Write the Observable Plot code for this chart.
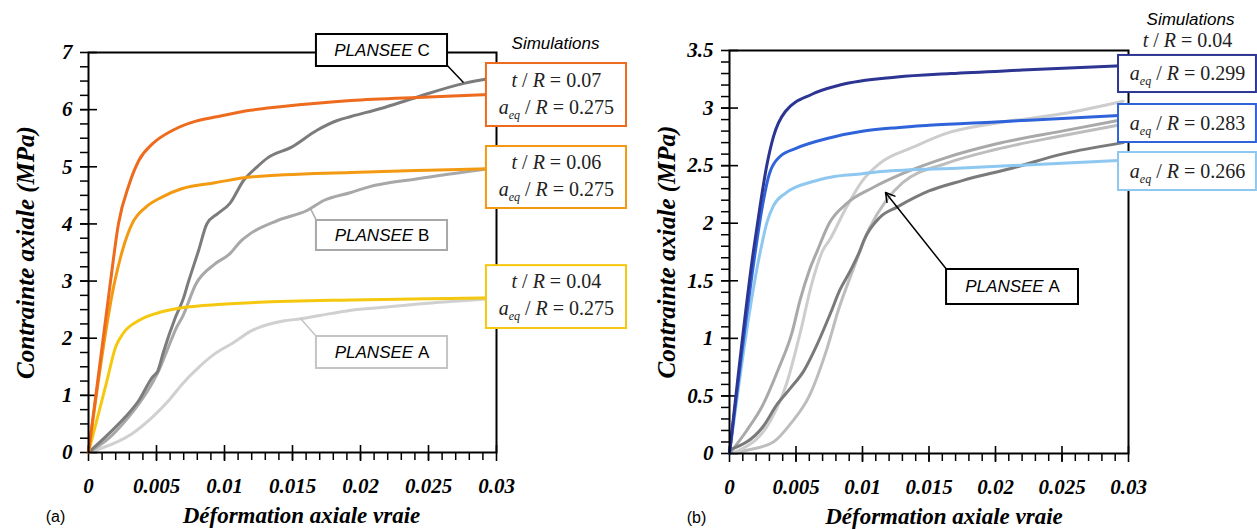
<!DOCTYPE html>
<html><head><meta charset="utf-8">
<script src="https://cdn.jsdelivr.net/npm/d3@7"></script>
<script src="https://cdn.jsdelivr.net/npm/@observablehq/plot@0.6"></script>
<style>
body{margin:0;background:#fff;}
#wrap{position:relative;width:1257px;height:530px;overflow:hidden;background:#fff;}
#wrap svg{position:absolute;top:0;}
</style></head><body><div id="wrap"></div>
<script>
// ---------- tick values ----------
const xMajor = [0, 0.005, 0.01, 0.015, 0.02, 0.025, 0.03];
const xTickLabels = ["0", "0.005", "0.01", "0.015", "0.02", "0.025", "0.03"];
const yMajorA = [0, 1, 2, 3, 4, 5, 6, 7];
const yTickLabelsA = ["0", "1", "2", "3", "4", "5", "6", "7"];
const yMajorB = [0, 0.5, 1, 1.5, 2, 2.5, 3, 3.5];
const yTickLabelsB = ["0", "0.5", "1", "1.5", "2", "2.5", "3", "3.5"];

// ---------- panel (a): simulations ----------
const simA07_x = [0, 0.0016, 0.0022, 0.003, 0.0037, 0.0047, 0.0062, 0.0079, 0.0093, 0.0119, 0.0141, 0.0193, 0.025, 0.03];
const simA07_y = [0, 2.96, 4.0, 4.7, 5.11, 5.4, 5.64, 5.8, 5.87, 5.99, 6.05, 6.16, 6.22, 6.27];
const simA06_x = [0, 0.0019, 0.0025, 0.0032, 0.0042, 0.0054, 0.0069, 0.0093, 0.0119, 0.0193, 0.025, 0.03];
const simA06_y = [0, 2.96, 3.54, 4.0, 4.29, 4.47, 4.62, 4.72, 4.82, 4.9, 4.94, 4.97];
const simA04_x = [0, 0.0013, 0.002, 0.0026, 0.0037, 0.0052, 0.0071, 0.0095, 0.0193, 0.025, 0.03];
const simA04_y = [0, 1.2, 1.85, 2.1, 2.31, 2.45, 2.54, 2.59, 2.67, 2.69, 2.71];
// ---------- panel (a): experiments ----------
const expC_x = [0, 0.0015, 0.0027, 0.0037, 0.0047, 0.0051, 0.0055, 0.0064, 0.007, 0.0073, 0.0081, 0.0087, 0.0095, 0.0104, 0.0114, 0.0124, 0.0132, 0.0149, 0.0168, 0.0183, 0.0193, 0.0215, 0.0239, 0.0276, 0.0296];
const expC_y = [0, 0.33, 0.62, 0.91, 1.32, 1.43, 1.75, 2.37, 2.71, 2.95, 3.54, 4.0, 4.18, 4.36, 4.76, 5.0, 5.16, 5.34, 5.64, 5.81, 5.88, 6.02, 6.2, 6.46, 6.55];
const expB_x = [0, 0.0015, 0.0027, 0.0037, 0.0047, 0.0052, 0.0058, 0.0065, 0.0069, 0.0079, 0.0093, 0.0104, 0.0112, 0.0119, 0.0139, 0.0161, 0.0173, 0.0193, 0.0205, 0.0242, 0.0296];
const expB_y = [0, 0.25, 0.55, 0.85, 1.22, 1.45, 1.8, 2.2, 2.37, 2.95, 3.3, 3.48, 3.7, 3.83, 4.06, 4.24, 4.41, 4.55, 4.64, 4.79, 4.97];
const expA_x = [0, 0.0009, 0.0032, 0.0047, 0.0059, 0.0069, 0.0081, 0.0093, 0.0107, 0.0119, 0.0143, 0.0156, 0.0178, 0.0193, 0.0217, 0.0254, 0.0296];
const expA_y = [0, 0.07, 0.33, 0.62, 0.91, 1.2, 1.49, 1.73, 1.93, 2.12, 2.3, 2.34, 2.43, 2.49, 2.54, 2.62, 2.69];

// ---------- panel (b): simulations ----------
const simB299_x = [0, 0.0018, 0.0023, 0.0028, 0.0033, 0.0042, 0.0062, 0.0083, 0.0126, 0.0166, 0.022, 0.03];
const simB299_y = [0, 1.76, 2.15, 2.5, 2.75, 2.97, 3.12, 3.2, 3.27, 3.3, 3.33, 3.37];
const simB283_x = [0, 0.002, 0.0024, 0.003, 0.0038, 0.005, 0.0075, 0.0101, 0.0126, 0.015, 0.02, 0.025, 0.03];
const simB283_y = [0, 1.8, 2.1, 2.43, 2.58, 2.65, 2.74, 2.8, 2.83, 2.85, 2.88, 2.91, 2.94];
const simB266_x = [0, 0.0024, 0.0028, 0.0033, 0.0042, 0.0062, 0.0076, 0.01, 0.0114, 0.0175, 0.025, 0.03];
const simB266_y = [0, 1.8, 2.0, 2.15, 2.26, 2.36, 2.4, 2.43, 2.45, 2.48, 2.52, 2.55];
// ---------- panel (b): experiments (PLANSEE A) ----------
const expA1_x = [0, 0.0013, 0.0025, 0.0037, 0.0047, 0.0053, 0.006, 0.0066, 0.0075, 0.0088, 0.0108, 0.013, 0.0163, 0.0201, 0.025, 0.0296];
const expA1_y = [0, 0.2, 0.42, 0.74, 1.05, 1.33, 1.59, 1.76, 2.0, 2.17, 2.31, 2.43, 2.57, 2.69, 2.8, 2.9];
const expA2_x = [0, 0.00075, 0.0032, 0.0043, 0.0053, 0.0062, 0.007, 0.0075, 0.0088, 0.01, 0.0113, 0.0138, 0.0163, 0.0201, 0.025, 0.0296];
const expA2_y = [0, 0.03, 0.31, 0.61, 1.04, 1.48, 1.76, 1.85, 2.14, 2.37, 2.52, 2.66, 2.78, 2.87, 2.95, 3.06];
const expA3_x = [0, 0.0025, 0.0036, 0.0046, 0.0056, 0.0066, 0.0076, 0.0083, 0.0091, 0.0098, 0.0101, 0.0113, 0.0126, 0.015, 0.0175, 0.0213, 0.025, 0.0296];
const expA3_y = [0.03, 0.23, 0.43, 0.57, 0.72, 0.95, 1.22, 1.42, 1.59, 1.76, 1.85, 2.05, 2.14, 2.28, 2.37, 2.48, 2.6, 2.7];
const expA4_x = [0, 0.0014, 0.0033, 0.0046, 0.006, 0.0073, 0.0082, 0.0093, 0.0105, 0.0118, 0.013, 0.0163, 0.02, 0.025, 0.0296];
const expA4_y = [0, 0.03, 0.1, 0.26, 0.5, 0.9, 1.25, 1.6, 1.95, 2.2, 2.35, 2.52, 2.64, 2.76, 2.86];

// ---------- labels ----------
const yTitle = "Contrainte axiale (MPa)";
const xTitle = "Déformation axiale vraie";
const simLabelsA = [["t / R = 0.07", "a_eq / R = 0.275"], ["t / R = 0.06", "a_eq / R = 0.275"], ["t / R = 0.04", "a_eq / R = 0.275"]];
const simLabelsB = ["a_eq / R = 0.299", "a_eq / R = 0.283", "a_eq / R = 0.266"];
const expLabelsA = ["PLANSEE C", "PLANSEE B", "PLANSEE A"];

// ---------- styles ----------
const C = {
  o07: "#ee6a1c", o06: "#f49a12", o04: "#f5c80f",
  b299: "#2c3592", b283: "#2f63da", b266: "#8ec8f0",
  gC: "#7c7c7c", gB: "#a8a8a8", gA: "#d0d0d0",
  g1: "#a9a9a9", g2: "#cdcdcd", g3: "#7a7a7a", g4: "#bdbdbd"
};
const serif = "Liberation Serif, Times New Roman, serif";
const sans = "Liberation Sans, Arial, sans-serif";
const tickFont = {fontSize: 21, fontFamily: serif, fontWeight: "bold", fontStyle: "italic"};

const series = (xs, ys, name, color) => xs.map((x, i) => ({x, y: ys[i], name, color}));
const lookup = (vals, labs) => d => labs[vals.findIndex(v => Math.abs(v - d) < 1e-9)];

// ---------- annotation placement (data units) ----------
const annA = {
  expBoxes: [
    {x1: 0.01676, x2: 0.0264, y1: 6.755, y2: 7.315, color: "#000", tx: 0.02158, ty: 7.035},
    {x1: 0.01676, x2: 0.0264, y1: 3.535, y2: 4.06, color: C.gB, tx: 0.02158, ty: 3.8},
    {x1: 0.01676, x2: 0.0264, y1: 1.47, y2: 2.03, color: "#c4c4c4", tx: 0.02158, ty: 1.75}
  ],
  leaders: [
    {x1: 0.0264, y1: 6.77, x2: 0.02757, y2: 6.475, color: "#000"},
    {x1: 0.01632, y1: 4.27, x2: 0.01676, y2: 4.06, color: C.gB},
    {x1: 0.01559, y1: 2.345, x2: 0.01676, y2: 2.03, color: "#c4c4c4"}
  ],
  simBoxes: [
    {x1: 0.02926, x2: 0.03956, y1: 5.705, y2: 6.807, color: C.o07, tx: 0.0344, ty1: 6.51, ty2: 6.04},
    {x1: 0.02926, x2: 0.03956, y1: 4.27, y2: 5.355, color: C.o06, tx: 0.0344, ty1: 5.075, ty2: 4.6},
    {x1: 0.02926, x2: 0.03956, y1: 2.17, y2: 3.27, color: C.o04, tx: 0.0344, ty1: 2.99, ty2: 2.52}
  ],
  simTitle: {x: 0.03434, y: 7.16}
};
const annB = {
  simBoxes: [
    {x1: 0.02925, x2: 0.03962, y1: 3.135, y2: 3.457, color: C.b299, tx: 0.03444, ty: 3.296},
    {x1: 0.02925, x2: 0.03962, y1: 2.701, y2: 3.031, color: C.b283, tx: 0.03444, ty: 2.866},
    {x1: 0.02925, x2: 0.03962, y1: 2.284, y2: 2.614, color: C.b266, tx: 0.03444, ty: 2.449}
  ],
  simTitle: {x: 0.03466, y: 3.769},
  simSub: {x: 0.03444, y: 3.587},
  expBox: {x1: 0.01632, x2: 0.02624, y1: 1.294, y2: 1.598, color: "#000", tx: 0.02128, ty: 1.446},
  arrow: {x1: 0.01639, y1: 1.589, x2: 0.01173, y2: 2.267}
};

// ---------- rich text (italic variables, subscripts) ----------
function richify(svg) {
  d3.select(svg).selectAll("text").each(function () {
    const s = this.textContent;
    let parts = null;
    if (/^t \/ R = /.test(s)) parts = [["t", "i"], [" / ", "n"], ["R", "i"], [s.slice(5), "n"]];
    else if (/^a_eq \/ R = /.test(s)) parts = [["a", "i"], ["eq", "sub"], [" / ", "n"], ["R", "i"], [s.slice(8), "n"]];
    else if (/^PLANSEE /.test(s)) parts = [["PLANSEE ", "i"], [s.slice(8), "n"]];
    if (!parts) return;
    const el = d3.select(this);
    el.text(null);
    let sub = false;
    for (const [txt, st] of parts) {
      const ts = el.append("tspan").text(txt);
      ts.attr("font-style", st === "n" ? "normal" : "italic");
      if (st === "sub") { ts.attr("font-size", "12px").attr("dy", 5); sub = true; }
      else if (sub) { ts.attr("dy", -5); sub = false; }
    }
  });
}

function commonMarks(xMinor, xMajorV, yMinor, yMajorV, yLabels, plotW, plotH, panelLetter, xTitleDx) {
  return [
    Plot.ruleX(xMinor, {x: d => d, stroke: "#000", strokeWidth: 1.5, insetTop: plotH, insetBottom: -8}),
    Plot.ruleX(xMajorV, {x: d => d, stroke: "#000", strokeWidth: 1.6, insetTop: plotH - 7, insetBottom: -9}),
    Plot.ruleY(yMinor, {y: d => d, stroke: "#000", strokeWidth: 1.5, insetRight: plotW, insetLeft: -8}),
    Plot.ruleY(yMajorV, {y: d => d, stroke: "#000", strokeWidth: 1.6, insetRight: plotW - 9, insetLeft: -8}),
    Plot.axisX(xMajorV, {tickSize: 0, tickPadding: 26, label: null, tickFormat: lookup(xMajor, xTickLabels), fill: "#000", ...tickFont}),
    Plot.axisY(yMajorV, {tickSize: 0, tickPadding: 16, label: null, tickFormat: yLabels, fill: "#000", ...tickFont}),
    Plot.text([yTitle], {text: d => d, frameAnchor: "left", dx: -63, rotate: -90, textAnchor: "middle", lineAnchor: "middle", fontSize: 25, fontFamily: serif, fontWeight: "bold", fontStyle: "italic", fill: "#000"}),
    Plot.text([xTitle], {text: d => d, frameAnchor: "bottom", dx: xTitleDx, dy: 63, textAnchor: "middle", lineAnchor: "middle", fontSize: 23, fontFamily: serif, fontWeight: "bold", fontStyle: "italic", fill: "#000"}),
    Plot.text([panelLetter], {text: d => d, frameAnchor: "bottom-left", dx: -33, dy: 64, textAnchor: "middle", lineAnchor: "middle", fontSize: 16, fontFamily: sans, fill: "#000"})
  ];
}

// ---------- panel (a) ----------
const linesA = [
  ...series(expA_x, expA_y, "A", C.gA),
  ...series(expB_x, expB_y, "B", C.gB),
  ...series(expC_x, expC_y, "C", C.gC),
  ...series(simA04_x, simA04_y, "s04", C.o04),
  ...series(simA06_x, simA06_y, "s06", C.o06),
  ...series(simA07_x, simA07_y, "s07", C.o07)
];
const simTextA = annA.simBoxes.flatMap((b, i) => [
  {x: b.tx, y: b.ty1, t: simLabelsA[i][0]},
  {x: b.tx, y: b.ty2, t: simLabelsA[i][1]}
]);
const plotA = Plot.plot({
  width: 628, height: 530,
  marginLeft: 88, marginRight: 132, marginTop: 52, marginBottom: 78,
  x: {domain: [0, 0.03], axis: null},
  y: {domain: [0, 7], axis: null},
  color: {type: "identity"},
  style: {background: "transparent", color: "#000", overflow: "visible"},
  marks: [
    ...commonMarks(d3.range(1, 30).map(i => i / 1000), xMajor, d3.range(1, 28).map(i => i / 4), yMajorA, lookup(yMajorA, yTickLabelsA), 408, 400, "(a)", 9),
    Plot.line(linesA, {x: "x", y: "y", z: "name", stroke: "color", strokeWidth: 3, curve: "monotone-x"}),
    Plot.frame({stroke: "#000", strokeWidth: 2}),
    Plot.link(annA.leaders, {x1: "x1", y1: "y1", x2: "x2", y2: "y2", stroke: "color", strokeWidth: 1.5}),
    Plot.rect([...annA.expBoxes, ...annA.simBoxes], {x1: "x1", x2: "x2", y1: "y1", y2: "y2", fill: "#fff", stroke: "color", strokeWidth: 2}),
    Plot.text(annA.expBoxes.map((b, i) => ({x: b.tx, y: b.ty, t: expLabelsA[i]})), {x: "x", y: "y", text: "t", fontSize: 17, fontFamily: sans, fill: "#000"}),
    Plot.text(simTextA, {x: "x", y: "y", text: "t", fontSize: 20, fontFamily: serif, fill: "#222"}),
    Plot.text(["Simulations"], {x: annA.simTitle.x, y: annA.simTitle.y, text: d => d, fontSize: 17, fontFamily: sans, fontStyle: "italic", fill: "#000"})
  ]
});

// ---------- panel (b) ----------
const linesB = [
  ...series(expA4_x, expA4_y, "e4", C.g4),
  ...series(expA2_x, expA2_y, "e2", C.g2),
  ...series(expA1_x, expA1_y, "e1", C.g1),
  ...series(expA3_x, expA3_y, "e3", C.g3),
  ...series(simB266_x, simB266_y, "s266", C.b266),
  ...series(simB283_x, simB283_y, "s283", C.b283),
  ...series(simB299_x, simB299_y, "s299", C.b299)
];
const plotB = Plot.plot({
  width: 629, height: 530,
  marginLeft: 101, marginRight: 129, marginTop: 50, marginBottom: 77,
  x: {domain: [0, 0.03], axis: null},
  y: {domain: [0, 3.5], axis: null},
  color: {type: "identity"},
  style: {background: "transparent", color: "#000", overflow: "visible"},
  marks: [
    ...commonMarks(d3.range(1, 30).map(i => i / 1000), xMajor, d3.range(1, 35).map(i => i / 10), yMajorB, lookup(yMajorB, yTickLabelsB), 399, 403, "(b)", 15),
    Plot.line(linesB, {x: "x", y: "y", z: "name", stroke: "color", strokeWidth: 3, curve: "monotone-x"}),
    Plot.frame({stroke: "#000", strokeWidth: 2}),
    Plot.arrow([annB.arrow], {x1: "x1", y1: "y1", x2: "x2", y2: "y2", stroke: "#000", strokeWidth: 1.5, headLength: 10}),
    Plot.rect([...annB.simBoxes, annB.expBox], {x1: "x1", x2: "x2", y1: "y1", y2: "y2", fill: "#fff", stroke: "color", strokeWidth: 2}),
    Plot.text(annB.simBoxes.map((b, i) => ({x: b.tx, y: b.ty, t: simLabelsB[i]})), {x: "x", y: "y", text: "t", fontSize: 20, fontFamily: serif, fill: "#222"}),
    Plot.text(["PLANSEE A"], {x: annB.expBox.tx, y: annB.expBox.ty, text: d => d, fontSize: 17, fontFamily: sans, fill: "#000"}),
    Plot.text(["Simulations"], {x: annB.simTitle.x, y: annB.simTitle.y, text: d => d, fontSize: 17, fontFamily: sans, fontStyle: "italic", fill: "#000"}),
    Plot.text(["t / R = 0.04"], {x: annB.simSub.x, y: annB.simSub.y, text: d => d, fontSize: 20, fontFamily: serif, fill: "#222"})
  ]
});

richify(plotA);
richify(plotB);
plotA.style.left = "0px";
plotB.style.left = "628px";
const wrap = document.getElementById("wrap");
wrap.appendChild(plotA);
wrap.appendChild(plotB);
</script>
</body></html>
